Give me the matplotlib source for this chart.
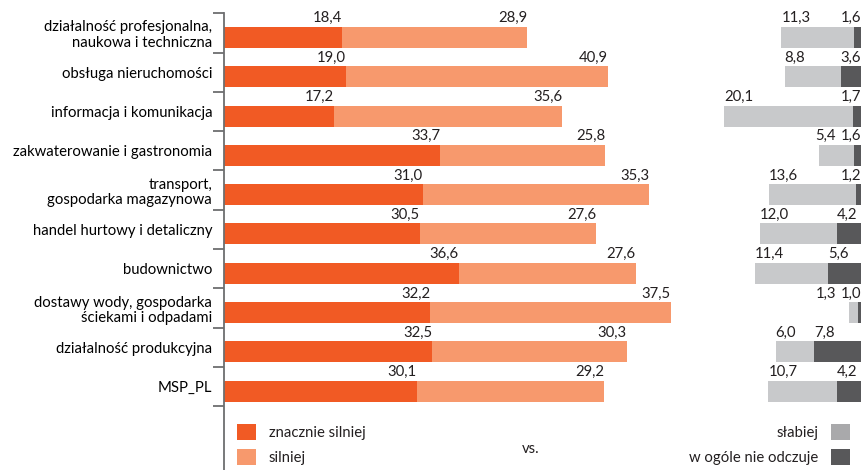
import matplotlib.pyplot as plt
from matplotlib.patches import Patch

categories = [
    "działalność profesjonalna,\nnaukowa i techniczna",
    "obsługa nieruchomości",
    "informacja i komunikacja",
    "zakwaterowanie i gastronomia",
    "transport,\ngospodarka magazynowa",
    "handel hurtowy i detaliczny",
    "budownictwo",
    "dostawy wody, gospodarka\nściekami i odpadami",
    "działalność produkcyjna",
    "MSP_PL",
]
much_stronger = [18.4, 19.0, 17.2, 33.7, 31.0, 30.5, 36.6, 32.2, 32.5, 30.1]
stronger = [28.9, 40.9, 35.6, 25.8, 35.3, 27.6, 27.6, 37.5, 30.3, 29.2]
weaker = [11.3, 8.8, 20.1, 5.4, 13.6, 12.0, 11.4, 1.3, 6.0, 10.7]
not_at_all = [1.6, 3.6, 1.7, 1.6, 1.2, 4.2, 5.6, 1.0, 7.8, 4.2]

C_DARK_OR = "#F15A24"
C_LIGHT_OR = "#F7996D"
C_LIGHT_GR = "#C8C9CB"
C_LEG_GR = "#A9A9AB"
C_DARK_GR = "#58585A"
TXT = "#231F20"

plt.rcParams["font.family"] = ["Lato", "DejaVu Sans"]
plt.rcParams["text.color"] = TXT

W, H = 861, 470
fig = plt.figure(figsize=(W / 100, H / 100), dpi=100)

px = 6.41          # pixels per unit
left_px = 224
top_px = 13.3
row_px = 39.3
ax = fig.add_axes([left_px / W, 0, (W - left_px) / W, (H - top_px) / H])
ax.set_xlim(0, (W - left_px) / px)
ax.set_ylim(-0.5 + (H - top_px) / row_px, -0.5)

R = (864 - left_px) / px   # right anchor of right-hand panel
bar_h = 0.535
off = 0.115

def fmt(v):
    return f"{v:.1f}".replace(".", ",")

fs = 10.7
for i in range(len(categories)):
    y = i + off
    top = y - bar_h / 2 - 0.04
    a, b = much_stronger[i], stronger[i]
    ax.barh(y, a, height=bar_h, color=C_DARK_OR, lw=0)
    ax.barh(y, b, left=a, height=bar_h, color=C_LIGHT_OR, lw=0)
    ax.text(a, top, fmt(a), ha="right", va="bottom", fontsize=fs)
    ax.text(a + b, top, fmt(b), ha="right", va="bottom", fontsize=fs)

    w, n = weaker[i], not_at_all[i]
    ax.barh(y, w, left=R - n - w, height=bar_h, color=C_LIGHT_GR, lw=0)
    ax.barh(y, n, left=R - n, height=bar_h, color=C_DARK_GR, lw=0)
    xn = min(R - n, R - 3.7)
    xw = min(R - n - w, R - 7.6)
    ax.text(xw, top, fmt(w), ha="left", va="bottom", fontsize=fs)
    ax.text(xn, top, fmt(n), ha="left", va="bottom", fontsize=fs)

ax.set_yticks(range(len(categories)))
ax.set_yticklabels(categories, fontsize=fs, linespacing=1.12)
ax.set_yticks([i - 0.5 for i in range(len(categories) + 1)], minor=True)
ax.tick_params(axis="y", which="major", length=0, pad=8.5)
ax.tick_params(axis="y", which="minor", length=8, width=1.3, color="#6D6E70")
ax.set_xticks([])
for s in ["top", "right", "bottom"]:
    ax.spines[s].set_visible(False)
ax.spines["left"].set_color("#6D6E70")
ax.spines["left"].set_linewidth(1.3)

leg_kw = dict(frameon=False, fontsize=fs, borderpad=0, borderaxespad=0,
              handlelength=1.3, handleheight=1.3, handletextpad=0.85,
              labelspacing=0.6, bbox_transform=fig.transFigure)
leg1 = ax.legend(handles=[Patch(color=C_DARK_OR, lw=0), Patch(color=C_LIGHT_OR, lw=0)],
                 labels=["znacznie silniej", "silniej"], loc="upper left",
                 bbox_to_anchor=(237 / W, 1 - 424 / H), **leg_kw)
ax.add_artist(leg1)
ax.legend(handles=[Patch(color=C_LEG_GR, lw=0), Patch(color=C_DARK_GR, lw=0)],
          labels=["słabiej", "w ogóle nie odczuje"], loc="upper right",
          markerfirst=False, bbox_to_anchor=(850 / W, 1 - 424 / H), **leg_kw)
fig.text(531 / W, 1 - 449 / H, "vs.", ha="center", va="center", fontsize=fs)

fig.savefig("out.png", dpi=100)
